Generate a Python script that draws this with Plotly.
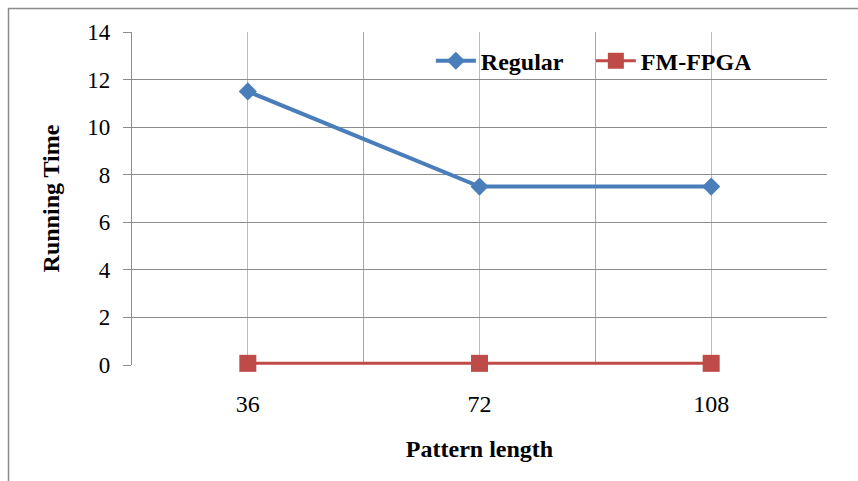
import plotly.graph_objects as go

categories = ["36", "72", "108"]
regular = [11.5, 7.5, 7.5]
fm_fpga = [0.07, 0.07, 0.07]
y_ticks = [0, 2, 4, 6, 8, 10, 12, 14]

W, H = 858, 481
L, R, T, B = 132, 31, 32, 116
pw, ph = W - L - R, H - T - B

xpos = list(range(len(categories)))
font_family = "Liberation Serif, Times New Roman, serif"

fig = go.Figure()
fig.add_trace(go.Scatter(
    x=xpos, y=regular, name="Regular", mode="lines+markers",
    line=dict(color="#4A7EBB", width=4),
    marker=dict(symbol="diamond", size=14, color="#4A7EBB"),
    cliponaxis=False,
))
fig.add_trace(go.Scatter(
    x=xpos, y=fm_fpga, name="FM-FPGA", mode="lines+markers",
    line=dict(color="#BE4B48", width=3),
    marker=dict(symbol="square", size=17, color="#BE4B48"),
    cliponaxis=False,
))

# outer chart frame
def px_to_paper_x(px):
    return (px - L) / pw

def px_to_paper_y(py):
    return (H - B - py) / ph

fig.add_shape(type="rect", xref="paper", yref="paper",
              x0=px_to_paper_x(8.5), x1=px_to_paper_x(900),
              y0=px_to_paper_y(520), y1=px_to_paper_y(8.5),
              line=dict(color="#8a8a8a", width=1.5), layer="below")

fig.update_layout(
    width=W, height=H,
    margin=dict(l=L, r=R, t=T, b=B),
    paper_bgcolor="white", plot_bgcolor="white",
    font=dict(family=font_family, color="black", size=23),
    showlegend=True,
    legend=dict(
        orientation="h", x=0.43, y=0.98, xanchor="left", yanchor="top",
        font=dict(family=font_family, size=24, weight="bold"),
        bgcolor="rgba(0,0,0,0)", itemwidth=40,
        entrywidth=105,
    ),
    xaxis=dict(
        range=[-0.5, len(categories) - 0.5],
        tickmode="array", tickvals=xpos, ticktext=categories,
        showgrid=True, gridcolor="#bdbdbd", gridwidth=1,
        minor=dict(tickmode="array",
                   tickvals=[i - 0.5 for i in range(len(categories) + 1)],
                   showgrid=True, gridcolor="#a6a6a6", gridwidth=1.2, ticks=""),
        showline=False, zeroline=False, ticks="",
        ticklabelstandoff=22,
        tickfont=dict(size=24),
        title=dict(text="<b>Pattern length</b>", font=dict(size=24), standoff=24),
    ),
    yaxis=dict(
        range=[0, 14], tickmode="array", tickvals=y_ticks,
        showgrid=True, gridcolor="#8c8c8c", gridwidth=1.2,
        showline=True, linecolor="#8c8c8c", linewidth=1.2,
        ticks="outside", ticklen=8, tickcolor="#8c8c8c", tickwidth=1.2,
        zeroline=False,
        ticklabelstandoff=8,
        tickfont=dict(size=23),
        title=dict(text="<b>Running Time</b>", font=dict(size=24), standoff=20),
    ),
)

fig.write_html("out.html")
